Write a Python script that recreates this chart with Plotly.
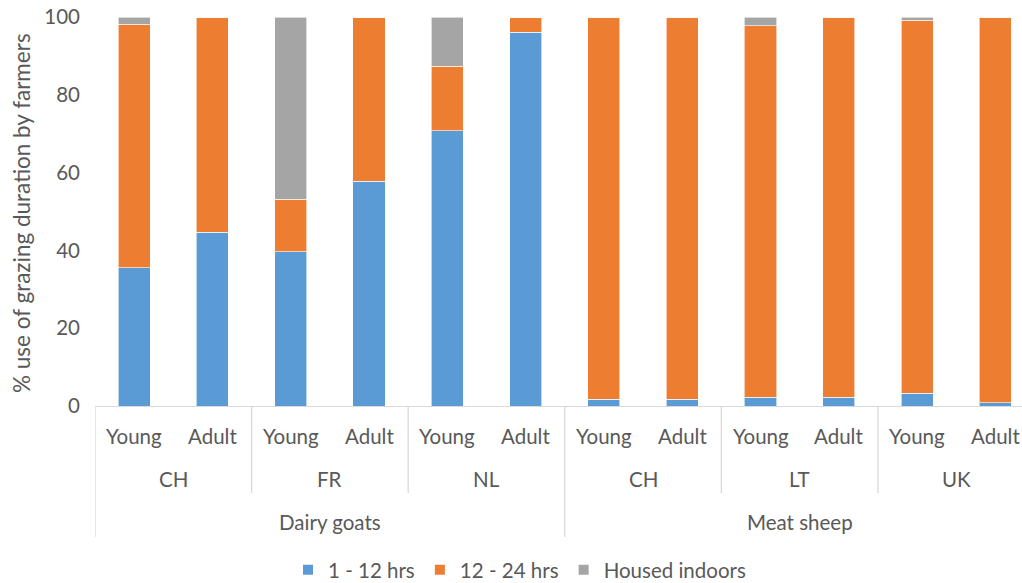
import plotly.graph_objects as go

ages = ["Young", "Adult", "Young", "Adult", "Young", "Adult",
        "Young", "Adult", "Young", "Adult", "Young", "Adult"]
countries = ["CH", "FR", "NL", "CH", "LT", "UK"]
species = ["Dairy goats", "Meat sheep"]

short_grazing = [35.5, 44.7, 39.6, 57.8, 70.7, 96.1, 1.7, 1.7, 2.2, 2.2, 3.3, 0.8]
long_grazing = [62.7, 55.3, 13.6, 42.2, 16.7, 3.9, 98.3, 98.3, 95.5, 97.8, 95.9, 99.2]
housed = [1.8, 0.0, 46.8, 0.0, 12.6, 0.0, 0.0, 0.0, 2.3, 0.0, 0.8, 0.0]

series_names = ["1 - 12 hrs", "12 - 24 hrs", "Housed indoors"]
colors = ["#5B9BD5", "#ED7D31", "#A5A5A5"]

FONT = "Lato, Carlito, Calibri, sans-serif"
GREY = "#595959"
FS = 20.5

W, H = 1022, 583

x = list(range(len(ages)))
fig = go.Figure()
for name, vals, col in zip(series_names, [short_grazing, long_grazing, housed], colors):
    fig.add_trace(go.Bar(x=x, y=vals, name=name, marker_color=col,
                         marker_line_color="white", marker_line_width=0.6,
                         hoverinfo="skip"))

plot_top, plot_bot, plot_left = 17, 406, 95
plot_h = plot_bot - plot_top
plot_w = W - plot_left

def py(px_below):
    return -px_below / plot_h

annotations = []
for i, a in enumerate(ages):
    annotations.append(dict(x=i, y=py(30), xref="x", yref="paper", text=a,
                            showarrow=False, yanchor="middle",
                            font=dict(size=FS, color=GREY, family=FONT)))
for j, c in enumerate(countries):
    annotations.append(dict(x=2 * j + 0.5, y=py(73), xref="x", yref="paper", text=c,
                            showarrow=False, yanchor="middle",
                            font=dict(size=FS, color=GREY, family=FONT)))
for k, s in enumerate(species):
    annotations.append(dict(x=6 * k + 2.5, y=py(116), xref="x", yref="paper", text=s,
                            showarrow=False, yanchor="middle",
                            font=dict(size=FS, color=GREY, family=FONT)))
# y-axis title as rotated annotation
annotations.append(dict(x=(21 - plot_left) / plot_w, y=(plot_bot - 213) / plot_h,
                        xref="paper", yref="paper",
                        text="% use of grazing duration by farmers", showarrow=False,
                        textangle=-90, xanchor="center", yanchor="middle",
                        font=dict(size=22.5, color=GREY, family=FONT)))

shapes = []
n_groups = len(countries)
for b in range(n_groups + 1):
    xb = 2 * b - 0.5
    long_line = (b % 3 == 0)
    shapes.append(dict(type="line", xref="x", yref="paper", x0=xb, x1=xb,
                       y0=0, y1=py(131 if long_line else 87),
                       line=dict(color="#D9D9D9", width=1.3)))

fig.update_layout(
    barmode="stack",
    bargap=0.59,
    hovermode=False,
    width=W, height=H,
    margin=dict(l=plot_left, r=0, t=plot_top, b=H - plot_bot, autoexpand=False),
    plot_bgcolor="white", paper_bgcolor="white",
    font=dict(family=FONT, color=GREY, size=FS),
    xaxis=dict(range=[-0.5, 11.34], showticklabels=False, showgrid=False,
               zeroline=False, showline=True, linecolor="#D9D9D9", linewidth=1.3,
               ticks="", automargin=False, fixedrange=True),
    yaxis=dict(range=[0, 100], tickvals=[0, 20, 40, 60, 80, 100], showgrid=False,
               zeroline=False, showline=False, ticks="", automargin=False,
               ticklabelstandoff=14, ticklabeloverflow="allow", fixedrange=True,
               tickfont=dict(size=FS, color=GREY, family=FONT)),
    legend=dict(orientation="h", x=288 / W, xanchor="left", xref="container",
                y=1 - 570 / H, yanchor="middle", yref="container",
                font=dict(size=FS, color=GREY, family=FONT), traceorder="normal",
                itemsizing="constant"),
    annotations=annotations,
    shapes=shapes,
)

fig.write_html("out.html",
               config={"displayModeBar": False, "staticPlot": True},
               post_script="document.body.style.margin='0';document.body.style.overflow='hidden';")
